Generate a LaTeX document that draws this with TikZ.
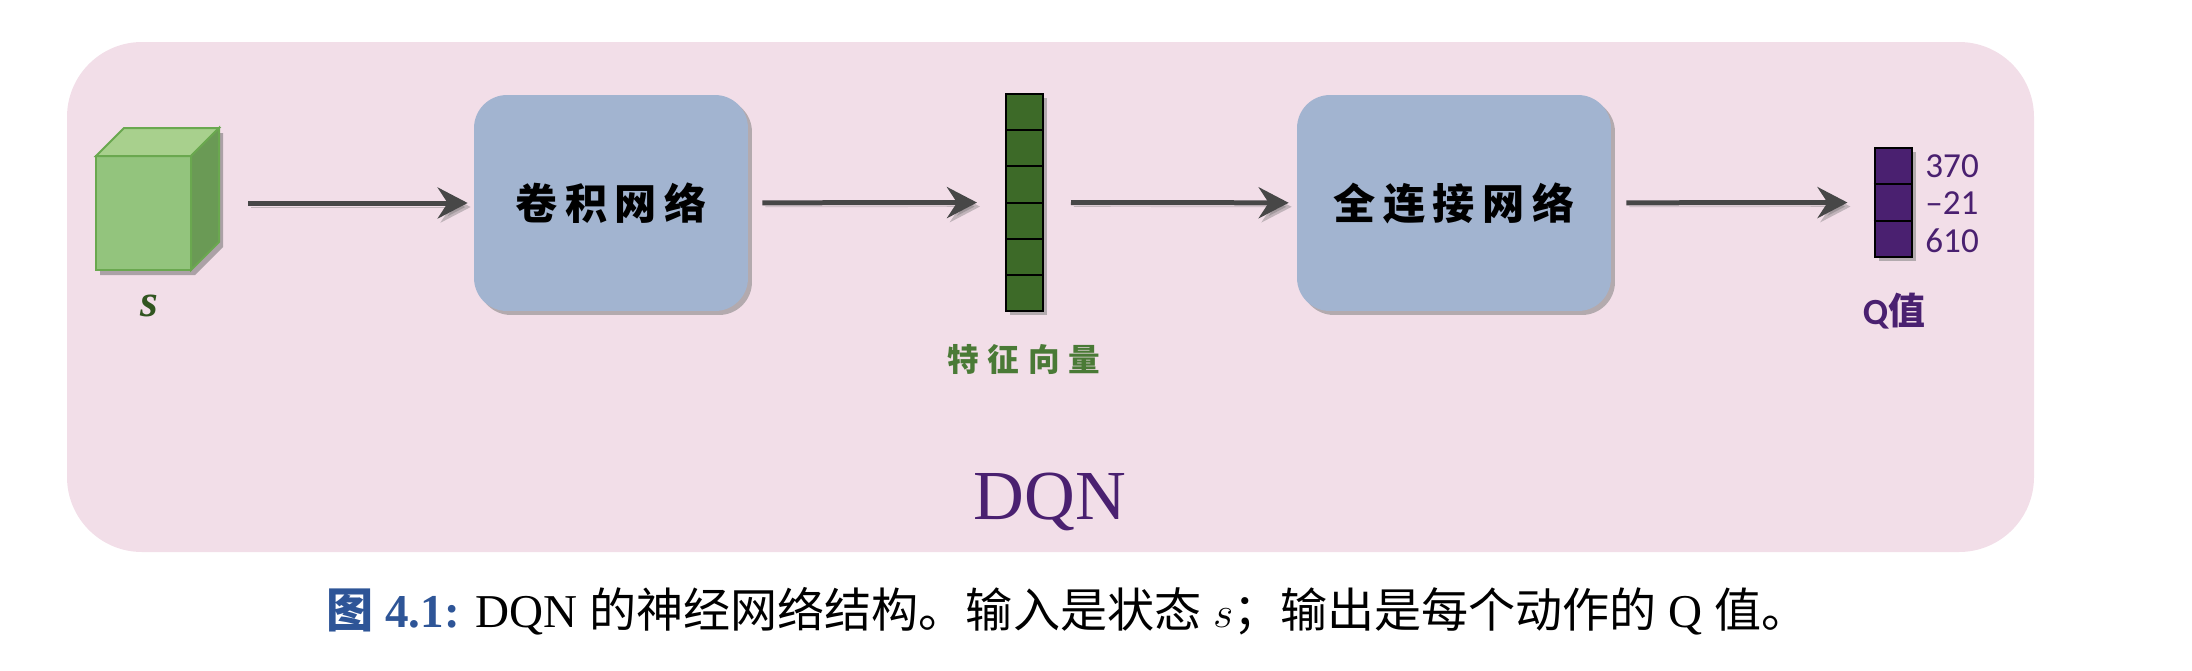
\documentclass[tikz,border=0pt]{standalone}
\usepackage{fontspec}
\setmainfont{Liberation Serif}
\newfontfamily\cjk{Noto Sans CJK SC}
\newfontfamily\numfont{Carlito}
\usepackage{tikz}
\usetikzlibrary{arrows.meta,positioning,calc,shadows}
\definecolor{dqnpink}{HTML}{F2DEE8}
\definecolor{dqnblue}{HTML}{A2B4D0}
\definecolor{dqngreen}{HTML}{3D6A28}
\definecolor{dqnlabel}{HTML}{4A7A36}
\definecolor{dqnleaf}{HTML}{93C47D}
\definecolor{dqnleaftop}{HTML}{A8D08D}
\definecolor{dqnleafside}{HTML}{6A9A55}
\definecolor{dqnleafline}{HTML}{6AA84F}
\definecolor{dqnpurple}{HTML}{4A2070}
\definecolor{dqnarrow}{HTML}{474747}
\definecolor{dqncaption}{HTML}{2E5597}

\begin{document}
\begin{tikzpicture}[x=0.02cm,y=-0.02cm,
  net/.style={fill=dqnblue,rounded corners=0.66cm,minimum height=4.32cm,
              align=center,font=\cjk\bfseries\fontsize{24}{28}\selectfont,
              drop shadow={shadow xshift=0.08cm,shadow yshift=-0.08cm,opacity=0.55}},
  vec/.style={draw=black,line width=0.04cm,minimum width=0.74cm,inner sep=0pt,
              drop shadow={shadow xshift=0.08cm,shadow yshift=-0.08cm,opacity=0.55}},
  qnum/.style={font=\numfont\fontsize{20}{24}\selectfont,text=dqnpurple,
               anchor=west,inner sep=0pt},
  arr/.style={-{Stealth[length=0.6cm,width=0.62cm,inset=0.2cm]},line width=0.1cm,
              dqnarrow,preaction={draw=black!60,opacity=0.35,
              transform canvas={shift={(0.06cm,-0.08cm)}}}}]
  \useasboundingbox (0,0) rectangle (2192,670);
  \fill[dqnpink,rounded corners=1.5cm] (67,42) rectangle (2034,552);

  % input state as a cube
  \fill[black!60,opacity=0.5,shift={(4,5)}]
    (96,156) -- (124,128) -- (219,128) -- (219,242) -- (191,270) -- (96,270) -- cycle;
  \filldraw[fill=dqnleaf,draw=dqnleafline,line width=0.04cm] (96,156) rectangle (191,270);
  \filldraw[fill=dqnleaftop,draw=dqnleafline,line width=0.04cm]
    (96,156) -- (124,128) -- (219,128) -- (191,156) -- cycle;
  \filldraw[fill=dqnleafside,draw=dqnleafline,line width=0.04cm]
    (191,156) -- (219,128) -- (219,242) -- (191,270) -- cycle;
  \node[minimum width=2.46cm,minimum height=2.84cm,inner sep=0pt] (state) at (157.5,203) {};
  \node[font=\bfseries\itshape\fontsize{26}{30}\selectfont,text=dqngreen!80!black] (slabel) at (149,306) {s};

  \node[net,minimum width=5.48cm] (conv) at (611,203) {卷\hspace{0.18em}积\hspace{0.18em}网\hspace{0.18em}络};

  \node[vec,fill=dqngreen,minimum height=4.34cm] (feat) at (1024.5,202.5) {};
  \foreach \k in {1,...,5}
    \draw[line width=0.04cm] ($(feat.north west)!\k/6!(feat.south west)$) -- ($(feat.north east)!\k/6!(feat.south east)$);
  \node[font=\cjk\bfseries\fontsize{18}{22}\selectfont,text=dqnlabel] (flabel) at (1024,359)
    {特\hspace{0.28em}征\hspace{0.28em}向\hspace{0.28em}量};

  \node[net,minimum width=6.28cm] (fc) at (1454,203) {全\hspace{0.18em}连\hspace{0.18em}接\hspace{0.18em}网\hspace{0.18em}络};

  \node[vec,fill=dqnpurple,minimum height=2.18cm] (qvec) at (1893,202.5) {};
  \foreach \k in {1,2}
    \draw[line width=0.04cm] ($(qvec.north west)!\k/3!(qvec.south west)$) -- ($(qvec.north east)!\k/3!(qvec.south east)$);
  \node[qnum] (q1) at (1925,166) {370};
  \node[qnum] (q2) at (1925,203) {–21};
  \node[qnum] (q3) at (1925,241) {610};
  \node[font=\bfseries\fontsize{21}{24}\selectfont,text=dqnpurple] (qlabel) at (1894,311)
    {{\numfont Q}{\cjk 值}};

  \draw[arr,shorten <=0.58cm,shorten >=0.12cm] (state) -- (conv);
  \draw[arr,shorten <=0.28cm,shorten >=0.56cm] (conv) -- (feat);
  \draw[arr,shorten <=0.54cm,shorten >=0.16cm] (feat) -- (fc);
  \draw[arr,shorten <=0.30cm,shorten >=0.52cm] (fc) -- (qvec);

  \node[font=\fontsize{40}{44}\selectfont,text=dqnpurple] (title) at (1050,502) {DQN};

  \node[anchor=west,inner sep=0pt,font=\fontsize{26.8}{30}\selectfont] (cap) at (326,611)
    {{\color{dqncaption}\bfseries{\cjk 图} 4.1:} DQN {\cjk 的神经网络结构。输入是状态}~$s${\cjk ；输出是每个动作的}~Q~{\cjk 值。}};
\end{tikzpicture}
\end{document}
